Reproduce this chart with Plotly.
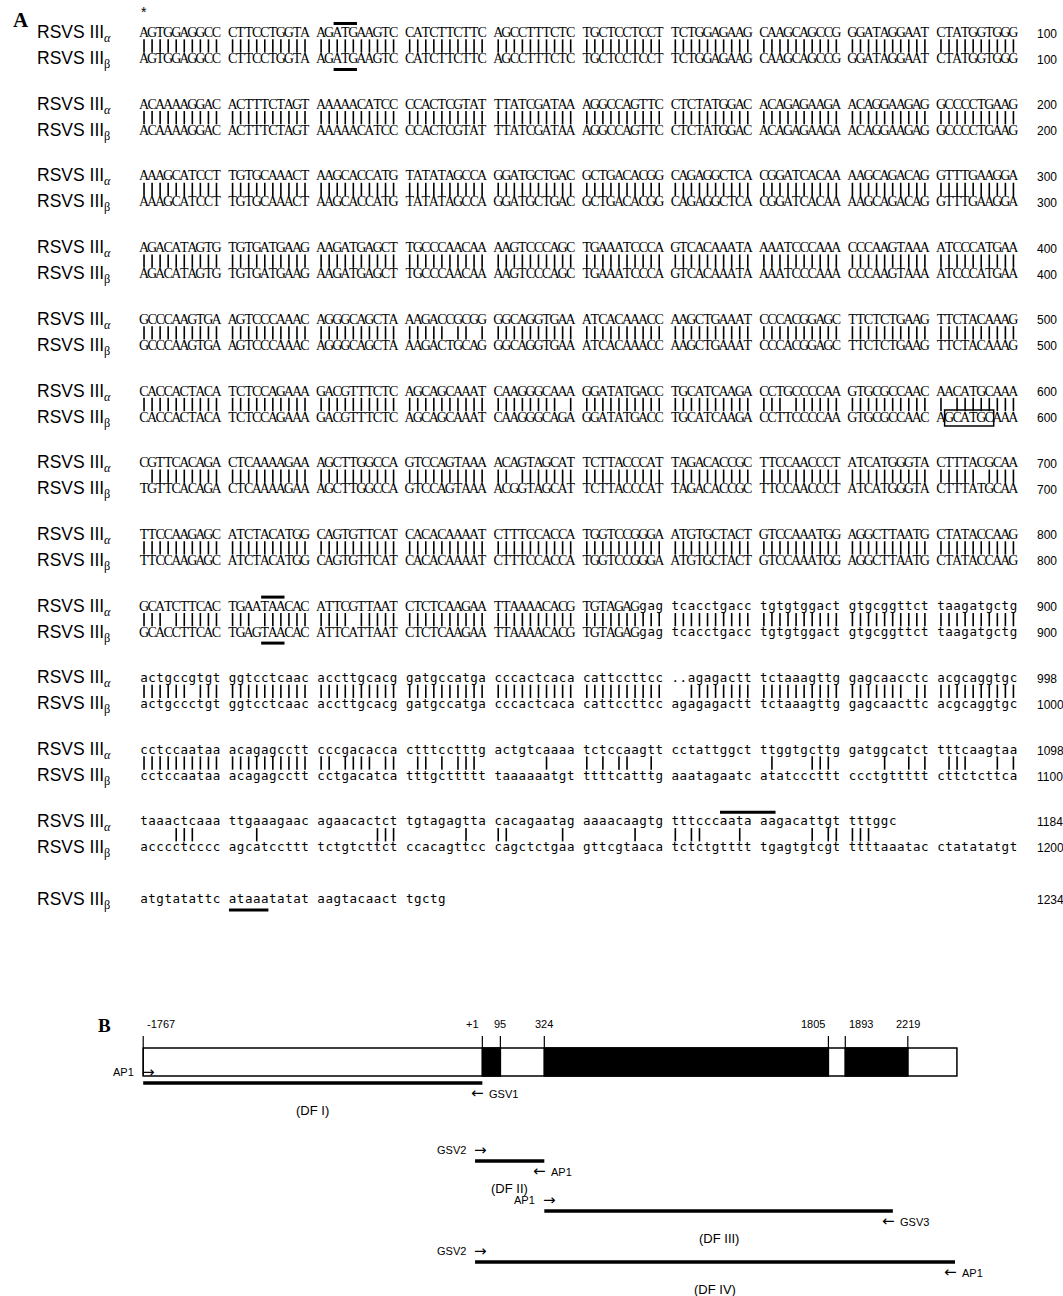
import plotly.graph_objects as go

W, H = 1063, 1296

# ---------------- Panel A data ----------------
alpha_blocks = [
    "AGTGGAGGCC CTTCCTGGTA AGATGAAGTC CATCTTCTTC AGCCTTTCTC TGCTCCTCCT TCTGGAGAAG CAAGCAGCCG GGATAGGAAT CTATGGTGGG",
    "ACAAAAGGAC ACTTTCTAGT AAAAACATCC CCACTCGTAT TTATCGATAA AGGCCAGTTC CTCTATGGAC ACAGAGAAGA ACAGGAAGAG GCCCCTGAAG",
    "AAAGCATCCT TGTGCAAACT AAGCACCATG TATATAGCCA GGATGCTGAC GCTGACACGG CAGAGGCTCA CGGATCACAA AAGCAGACAG GTTTGAAGGA",
    "AGACATAGTG TGTGATGAAG AAGATGAGCT TGCCCAACAA AAGTCCCAGC TGAAATCCCA GTCACAAATA AAATCCCAAA CCCAAGTAAA ATCCCATGAA",
    "GCCCAAGTGA AGTCCCAAAC AGGGCAGCTA AAGACCGCGG GGCAGGTGAA ATCACAAACC AAGCTGAAAT CCCACGGAGC TTCTCTGAAG TTCTACAAAG",
    "CACCACTACA TCTCCAGAAA GACGTTTCTC AGCAGCAAAT CAAGGGCAAA GGATATGACC TGCATCAAGA CCTGCCCCAA GTGCGCCAAC AACATGCAAA",
    "CGTTCACAGA CTCAAAAGAA AGCTTGGCCA GTCCAGTAAA ACAGTAGCAT TCTTACCCAT TAGACACCGC TTCCAACCCT ATCATGGGTA CTTTACGCAA",
    "TTCCAAGAGC ATCTACATGG CAGTGTTCAT CACACAAAAT CTTTCCACCA TGGTCCGGGA ATGTGCTACT GTCCAAATGG AGGCTTAATG CTATACCAAG",
    "GCATCTTCAC TGAATAACAC ATTCGTTAAT CTCTCAAGAA TTAAAACACG TGTAGAGgag tcacctgacc tgtgtggact gtgcggttct taagatgctg",
    "actgccgtgt ggtcctcaac accttgcacg gatgccatga cccactcaca cattccttcc ..agagactt tctaaagttg gagcaacctc acgcaggtgc",
    "cctccaataa acagagcctt cccgacacca ctttcctttg actgtcaaaa tctccaagtt cctattggct ttggtgcttg gatggcatct tttcaagtaa",
    "taaactcaaa ttgaaagaac agaacactct tgtagagtta cacagaatag aaaacaagtg tttcccaata aagacattgt tttggc",
]
beta_blocks = [
    "AGTGGAGGCC CTTCCTGGTA AGATGAAGTC CATCTTCTTC AGCCTTTCTC TGCTCCTCCT TCTGGAGAAG CAAGCAGCCG GGATAGGAAT CTATGGTGGG",
    "ACAAAAGGAC ACTTTCTAGT AAAAACATCC CCACTCGTAT TTATCGATAA AGGCCAGTTC CTCTATGGAC ACAGAGAAGA ACAGGAAGAG GCCCCTGAAG",
    "AAAGCATCCT TGTGCAAACT AAGCACCATG TATATAGCCA GGATGCTGAC GCTGACACGG CAGAGGCTCA CGGATCACAA AAGCAGACAG GTTTGAAGGA",
    "AGACATAGTG TGTGATGAAG AAGATGAGCT TGCCCAACAA AAGTCCCAGC TGAAATCCCA GTCACAAATA AAATCCCAAA CCCAAGTAAA ATCCCATGAA",
    "GCCCAAGTGA AGTCCCAAAC AGGGCAGCTA AAGACTGCAG GGCAGGTGAA ATCACAAACC AAGCTGAAAT CCCACGGAGC TTCTCTGAAG TTCTACAAAG",
    "CACCACTACA TCTCCAGAAA GACGTTTCTC AGCAGCAAAT CAAGGGCAGA GGATATGACC TGCATCAAGA CCTTCCCCAA GTGCGCCAAC AGCATGCAAA",
    "TGTTCACAGA CTCAAAAGAA AGCTTGGCCA GTCCAGTAAA ACGGTAGCAT TCTTACCCAT TAGACACCGC TTCCAACCCT ATCATGGGTA CTTTATGCAA",
    "TTCCAAGAGC ATCTACATGG CAGTGTTCAT CACACAAAAT CTTTCCACCA TGGTCCGGGA ATGTGCTACT GTCCAAATGG AGGCTTAATG CTATACCAAG",
    "GCACCTTCAC TGAGTAACAC ATTCATTAAT CTCTCAAGAA TTAAAACACG TGTAGAGgag tcacctgacc tgtgtggact gtgcggttct taagatgctg",
    "actgccctgt ggtcctcaac accttgcacg gatgccatga cccactcaca cattccttcc agagagactt tctaaagttg gagcaacttc acgcaggtgc",
    "cctccaataa acagagcctt cctgacatca tttgcttttt taaaaaatgt ttttcatttg aaatagaatc atatcccttt ccctgttttt cttctcttca",
    "acccctcccc agcatccttt tctgtcttct ccacagttcc cagctctgaa gttcgtaaca tctctgtttt tgagtgtcgt ttttaaatac ctatatatgt",
]
alpha_nums = [100, 200, 300, 400, 500, 600, 700, 800, 900, 998, 1098, 1184]
beta_nums = [100, 200, 300, 400, 500, 600, 700, 800, 900, 1000, 1100, 1200]
beta_tail = "atgtatattc ataaatatat aagtacaact tgctg"
beta_tail_num = 1234

# highlighted motifs: (block, row, first column, length, style)
motifs = [
    (0, "a", 24, 3, "over"),
    (0, "b", 24, 3, "under"),
    (8, "a", 15, 3, "over"),
    (8, "b", 15, 3, "under"),
    (5, "b", 100, 6, "box"),
    (11, "a", 72, 7, "over"),
    (12, "b", 11, 5, "under"),
]

# ---------------- Panel B data ----------------
gene_start, gene_end = -1767, 2475
exon_starts = [1, 324, 1893]
exon_ends = [95, 1805, 2219]
site_pos = [-1767, 1, 95, 324, 1805, 1893, 2219]
site_labels = ["-1767", "+1", "95", "324", "1805", "1893", "2219"]
site_anchor = ["left", "right", "center", "center", "right", "left", "center"]
frag_names = ["(DF I)", "(DF II)", "(DF III)", "(DF IV)"]
frag_starts = [-1767, -37, 324, -37]
frag_ends = [1, 324, 2141, 2465]
frag_fwd = ["AP1", "GSV2", "AP1", "GSV2"]
frag_rev = ["GSV1", "AP1", "GSV3", "AP1"]

# ---------------- layout parameters (page pixels) ----------------
X0, PITCH = 140.0, 8.05          # left edge of first column, px per column
Y0, BLOCK = 33.5, 71.7           # first alpha row, block spacing
DB = 26.0                        # alpha -> beta distance
TAIL_Y = 900.0
ROW_FRAGS = [1083, 1161, 1211, 1262]
BOX_TOP, BOX_BOT = 1048, 1076

# slot axis (x): column index i -> page px X0 + PITCH*(i+0.5)
xr0 = -X0 / PITCH - 0.5
xr1 = (W - X0) / PITCH - 0.5
# genomic axis (x2): linear schematic scale
S, PX_REF, POS_REF = 0.19182, 607.4, 652.9
g0 = POS_REF - PX_REF / S
g1 = POS_REF + (W - PX_REF) / S

def px2paper(p):
    return p / W

def row_y(k, r):
    if k == len(alpha_blocks):
        return TAIL_Y
    return Y0 + BLOCK * k + (DB if r == "b" else 0.0)

up_x, up_y, up_t = [], [], []
lo_x, lo_y, lo_t = [], [], []
bar_x, bar_y = [], []

def add_seq(seq, y):
    for i, ch in enumerate(seq):
        if ch == " ":
            continue
        if ch.isupper():
            up_x.append(i); up_y.append(y); up_t.append(ch)
        else:
            lo_x.append(i); lo_y.append(y); lo_t.append(ch)

for k, (a, b) in enumerate(zip(alpha_blocks, beta_blocks)):
    ya, yb = row_y(k, "a"), row_y(k, "b")
    add_seq(a, ya)
    add_seq(b, yb)
    for i, (ca, cb) in enumerate(zip(a, b)):
        if ca not in " ." and ca.lower() == cb.lower():
            bar_x.append(i); bar_y.append((ya + yb) / 2 - 0.5)
add_seq(beta_tail, TAIL_Y)

fig = go.Figure()
fig.add_trace(go.Scatter(x=up_x, y=up_y, text=up_t, mode="text",
                         textfont=dict(family="Liberation Serif", size=14, color="black"),
                         hoverinfo="skip", showlegend=False))
fig.add_trace(go.Scatter(x=lo_x, y=lo_y, text=lo_t, mode="text",
                         textfont=dict(family="DejaVu Sans Mono", size=12.5, color="black"),
                         hoverinfo="skip", showlegend=False))
fig.add_trace(go.Scatter(x=bar_x, y=bar_y, mode="markers",
                         marker=dict(symbol="line-ns", size=9.5, line=dict(width=1.6, color="black")),
                         hoverinfo="skip", showlegend=False))

shapes = []
annotations = []

# motifs
for (k, r, c, n, style) in motifs:
    y = row_y(k, r)
    if style == "over":
        shapes.append(dict(type="line", xref="x", yref="y", x0=c - 0.45, x1=c + n - 0.55,
                           y0=y - 10, y1=y - 10, line=dict(color="black", width=3)))
    elif style == "under":
        shapes.append(dict(type="line", xref="x", yref="y", x0=c - 0.45, x1=c + n - 0.55,
                           y0=y + 10, y1=y + 10, line=dict(color="black", width=3)))
    else:
        shapes.append(dict(type="rect", xref="x", yref="y", x0=c - 0.55, x1=c + n - 0.45,
                           y0=y - 8, y1=y + 8, line=dict(color="black", width=1.5)))

# labels and numbers
name_a = "RSVS III<sub><span style='font-family:Liberation Serif;font-style:italic'>α</span></sub>"
name_b = "RSVS III<sub><span style='font-family:Liberation Serif'>β</span></sub>"
lab_font = dict(family="Liberation Sans", size=17.5, color="black")
num_font = dict(family="Liberation Sans", size=12, color="black")

def add_label(text, y):
    annotations.append(dict(text=text, xref="paper", yref="y", x=px2paper(35), y=y,
                            xanchor="left", yanchor="middle", showarrow=False, font=lab_font))

def add_num(n, y):
    annotations.append(dict(text=str(n), xref="paper", yref="y", x=px2paper(1035), y=y,
                            xanchor="left", yanchor="middle", showarrow=False, font=num_font))

for k in range(len(alpha_blocks)):
    add_label(name_a, row_y(k, "a")); add_num(alpha_nums[k], row_y(k, "a"))
    add_label(name_b, row_y(k, "b")); add_num(beta_nums[k], row_y(k, "b"))
add_label(name_b, TAIL_Y); add_num(beta_tail_num, TAIL_Y)

annotations.append(dict(text="<b>A</b>", xref="paper", yref="y", x=px2paper(11), y=20,
                        xanchor="left", yanchor="middle", showarrow=False,
                        font=dict(family="Liberation Serif", size=21, color="black")))
annotations.append(dict(text="*", xref="x", yref="y", x=0, y=12,
                        xanchor="center", yanchor="middle", showarrow=False,
                        font=dict(family="Liberation Sans", size=14, color="black")))

# ---------------- Panel B ----------------
annotations.append(dict(text="<b>B</b>", xref="paper", yref="y", x=px2paper(96), y=1025,
                        xanchor="left", yanchor="middle", showarrow=False,
                        font=dict(family="Liberation Serif", size=19, color="black")))
shapes.append(dict(type="rect", xref="x2", yref="y", x0=gene_start, x1=gene_end,
                   y0=BOX_TOP, y1=BOX_BOT, line=dict(color="black", width=1.5),
                   fillcolor="white", layer="below"))
for s0, s1 in zip(exon_starts, exon_ends):
    shapes.append(dict(type="rect", xref="x2", yref="y", x0=s0, x1=s1,
                       y0=BOX_TOP, y1=BOX_BOT, line=dict(color="black", width=1.5),
                       fillcolor="black"))
for p in site_pos:
    shapes.append(dict(type="line", xref="x2", yref="y", x0=p, x1=p,
                       y0=BOX_TOP - 12, y1=BOX_BOT, line=dict(color="black", width=1.2)))
lbl_font = dict(family="Liberation Sans", size=11, color="black")
for p, t, an in zip(site_pos, site_labels, site_anchor):
    sh = {"left": 2, "right": -1, "center": 0}[an]
    annotations.append(dict(text=t, xref="x2", yref="y", x=p, y=1024, xanchor=an,
                            yanchor="middle", showarrow=False, font=lbl_font, xshift=sh))

pr_font = dict(family="Liberation Sans", size=11, color="black")
arr_font = dict(family="DejaVu Sans", size=15, color="black")
for name, s0, s1, f, r, y in zip(frag_names, frag_starts, frag_ends, frag_fwd, frag_rev, ROW_FRAGS):
    shapes.append(dict(type="line", xref="x2", yref="y", x0=s0, x1=s1, y0=y, y1=y,
                       line=dict(color="black", width=3.5)))
    annotations.append(dict(text=f, xref="x2", yref="y", x=s0, y=y - 11, xanchor="right",
                            yanchor="middle", showarrow=False, font=pr_font, xshift=-7))
    annotations.append(dict(text="→", xref="x2", yref="y", x=s0, y=y - 11, xanchor="left",
                            yanchor="middle", showarrow=False, font=arr_font, xshift=-3))
    annotations.append(dict(text="←", xref="x2", yref="y", x=s1, y=y + 10, xanchor="right",
                            yanchor="middle", showarrow=False, font=arr_font, xshift=4))
    annotations.append(dict(text=r, xref="x2", yref="y", x=s1, y=y + 11, xanchor="left",
                            yanchor="middle", showarrow=False, font=pr_font, xshift=5))
    annotations.append(dict(text=name, xref="x2", yref="y", x=(s0 + s1) / 2, y=y + 27,
                            xanchor="center", yanchor="middle", showarrow=False,
                            font=dict(family="Liberation Sans", size=13, color="black")))

fig.update_layout(
    width=W, height=H, margin=dict(l=0, r=0, t=0, b=0),
    paper_bgcolor="white", plot_bgcolor="white",
    xaxis=dict(range=[xr0, xr1], visible=False, fixedrange=True),
    xaxis2=dict(range=[g0, g1], visible=False, overlaying="x", anchor="y", fixedrange=True),
    yaxis=dict(range=[H, 0], visible=False, fixedrange=True),
    shapes=shapes, annotations=annotations,
)
fig.write_html("out.html", config={"displayModeBar": False, "staticPlot": True},
               post_script="document.body.style.margin='0';document.body.style.overflow='hidden';")
